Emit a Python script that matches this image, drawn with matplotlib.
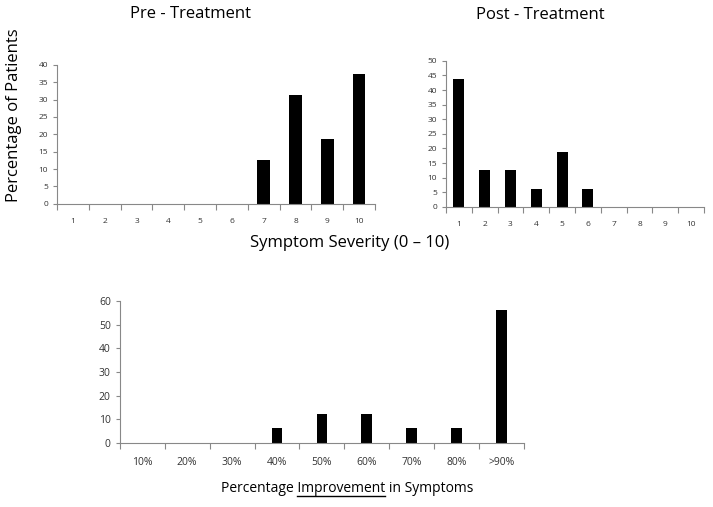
import numpy as np
import matplotlib.pyplot as plt
from matplotlib.lines import Line2D

plt.rcParams['font.family'] = ['Open Sans', 'DejaVu Sans']

# data
severity = ['1', '2', '3', '4', '5', '6', '7', '8', '9', '10']
pre_vals = [0, 0, 0, 0, 0, 0, 12.5, 31.25, 18.75, 37.5]
post_vals = [43.75, 12.5, 12.5, 6.25, 18.75, 6.25, 0, 0, 0, 0]
improve_labels = ['10%', '20%', '30%', '40%', '50%', '60%', '70%', '80%', '>90%']
improve_vals = [0, 0, 0, 6.25, 12.5, 12.5, 6.25, 6.25, 56.25]

fig = plt.figure(figsize=(7.13, 5.07), dpi=100)

def style(ax, labels, ymax, ystep, fs):
    n = len(labels)
    ax.set_xlim(0, n)
    ax.set_ylim(0, ymax)
    ax.set_yticks(np.arange(0, ymax + 1, ystep))
    ax.set_xticks(np.arange(n + 1), minor=False)
    ax.set_xticklabels([])
    ax.set_xticks(np.arange(n) + 0.5, minor=True)
    ax.set_xticklabels(labels, minor=True)
    ax.tick_params(axis='x', which='minor', length=0, pad=10, labelsize=fs, colors='#333333')
    ax.tick_params(axis='x', which='major', length=4, color='#888888')
    ax.tick_params(axis='y', length=3, color='#888888', labelsize=fs, labelcolor='#333333')
    for s in ['top', 'right']:
        ax.spines[s].set_visible(False)
    for s in ['left', 'bottom']:
        ax.spines[s].set_color('#888888')
        ax.spines[s].set_linewidth(0.8)

ax1 = fig.add_axes([0.080, 0.598, 0.446, 0.274])
x = np.arange(len(severity)) + 0.5
ax1.bar(x, pre_vals, width=0.4, color='black')
style(ax1, severity, 40, 5, 6)

ax2 = fig.add_axes([0.6255, 0.592, 0.362, 0.288])
ax2.bar(x, post_vals, width=0.43, color='black')
style(ax2, severity, 50, 5, 6)

ax3 = fig.add_axes([0.168, 0.126, 0.567, 0.280])
x3 = np.arange(len(improve_labels)) + 0.5
ax3.bar(x3, improve_vals, width=0.24, color='black')
style(ax3, improve_labels, 60, 10, 7.5)

fig.text(190 / 713, 1 - 14 / 507, 'Pre - Treatment', ha='center', va='center', fontsize=12)
fig.text(540 / 713, 1 - 15 / 507, 'Post - Treatment', ha='center', va='center', fontsize=12)
fig.text(14 / 713, 1 - 115 / 507, 'Percentage of Patients', ha='center', va='center',
         rotation=90, fontsize=12)
fig.text(350 / 713, 1 - 243 / 507, 'Symptom Severity (0 \u2013 10)', ha='center', va='center',
         fontsize=12)

# bottom label with underlined word
fs_b = 10
cx, cy = 347 / 713, 1 - 489 / 507
full = fig.text(cx, cy, 'Percentage Improvement in Symptoms', ha='center', va='center',
                fontsize=fs_b)
fig.canvas.draw()
r = fig.canvas.get_renderer()
bb_full = full.get_window_extent(r)
tmp1 = fig.text(0, 0, 'Percentage ', fontsize=fs_b)
tmp2 = fig.text(0, 0, 'Percentage Improvement', fontsize=fs_b)
w1 = tmp1.get_window_extent(r).width
w2 = tmp2.get_window_extent(r).width
tmp1.remove()
tmp2.remove()
ux0 = (bb_full.x0 + w1) / fig.bbox.width
ux1 = (bb_full.x0 + w2) / fig.bbox.width
uy = (bb_full.y0 + 1) / fig.bbox.height
fig.add_artist(Line2D([ux0, ux1], [uy, uy], color='black', lw=1, transform=fig.transFigure))

fig.savefig('out.png', dpi=100)
